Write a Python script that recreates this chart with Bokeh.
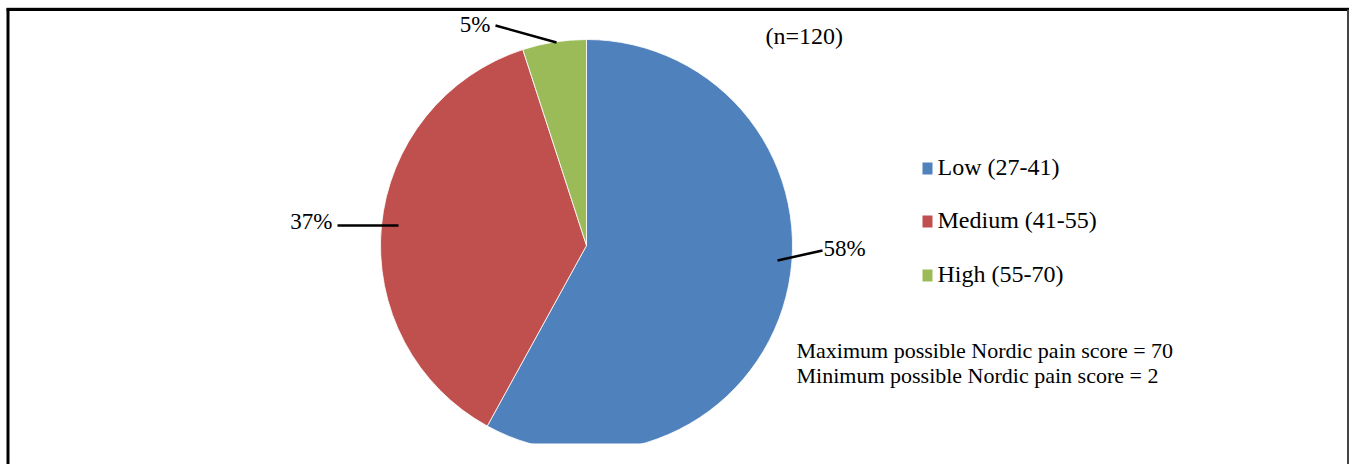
import math
from bokeh.plotting import figure
from bokeh.models import ColumnDataSource
from bokeh.core.properties import value
from bokeh.embed import file_html
from bokeh.resources import INLINE

# ---- data ----
categories = ["Low (27-41)", "Medium (41-55)", "High (55-70)"]
percents = [58, 37, 5]
colors = ["#4F81BD", "#C0504D", "#9BBB59"]
pct_labels = ["58%", "37%", "5%"]
sample_note = "(n=120)"
notes = ["Maximum possible Nordic pain score = 70",
         "Minimum possible Nordic pain score = 2"]

W, H = 1349, 464
FONT = value("Liberation Serif")
DY = -2  # small text baseline correction (px)

p = figure(width=W, height=H, x_range=(0, W), y_range=(0, H),
           output_backend="svg", toolbar_location=None, min_border=0)
p.axis.visible = False
p.grid.visible = False
p.outline_line_color = None
p.background_fill_color = "white"
p.border_fill_color = "white"

def Y(py):
    return H - py

# pie geometry (layout)
cx, cy, R = 586, 245, 206

total = float(sum(percents))
cum = [0.0]
for v in percents:
    cum.append(cum[-1] + v / total)
starts = [math.pi / 2 - 2 * math.pi * cum[i + 1] for i in range(len(percents))]
ends = [math.pi / 2 - 2 * math.pi * cum[i] for i in range(len(percents))]

src = ColumnDataSource(dict(x=[cx] * 3, y=[Y(cy)] * 3, start=starts, end=ends,
                            color=colors, cat=categories))
p.wedge(x="x", y="y", radius=R, start_angle="start", end_angle="end",
        fill_color="color", line_color="white", line_width=0.8, source=src)

# clip bottom of pie (plot area ends at ~443px)
p.quad(left=[300], right=[900], bottom=[0], top=[Y(443)],
       fill_color="white", line_color=None)

# leader lines (offsets from pie centre, px) and labels
lead_inner = [(191, 15), (-188, -20), (-30, -203)]
lead_outer = [(236, 5), (-249, -20), (-91, -220)]
label_pos = [(237, 5, "left"), (-254, -22, "right"), (-96, -219, "right")]
for i in range(3):
    x0, y0 = cx + lead_inner[i][0], cy + lead_inner[i][1]
    x1, y1 = cx + lead_outer[i][0], cy + lead_outer[i][1]
    p.line([x0, x1], [Y(y0), Y(y1)], line_color="black", line_width=2.5)
    lx, ly, al = label_pos[i]
    p.text(x=[cx + lx], y=[Y(cy + ly + DY)], text=[pct_labels[i]],
           text_font=FONT, text_font_size="23px", text_color="black",
           text_align=al, text_baseline="middle")

# n label
p.text(x=[765], y=[Y(37 + DY)], text=[sample_note], text_font=FONT,
       text_font_size="24px", text_color="black", text_align="left",
       text_baseline="middle")

# legend
leg_y = [168, 221, 275]
p.rect(x=[927] * 3, y=[Y(v) for v in leg_y], width=10, height=12,
       fill_color=colors, line_color=None)
p.text(x=[937] * 3, y=[Y(v + DY) for v in leg_y], text=categories, text_font=FONT,
       text_font_size="24px", text_color="black", text_align="left",
       text_baseline="middle")

# notes
p.text(x=[796, 796], y=[Y(352 + DY), Y(377 + DY)], text=notes, text_font=FONT,
       text_font_size="22px", text_color="black", text_align="left",
       text_baseline="middle")

# frame border
p.line([7.5, 7.5], [0, Y(8)], line_color="black", line_width=3)
p.line([6, 1349], [Y(9), Y(9)], line_color="black", line_width=3)
p.line([1347.5, 1347.5], [0, Y(9)], line_color="#444444", line_width=2)
p.line([6, 1349], [Y(7), Y(7)], line_color="#cccccc", line_width=1)

open("out.html", "w").write(file_html(p, INLINE))
